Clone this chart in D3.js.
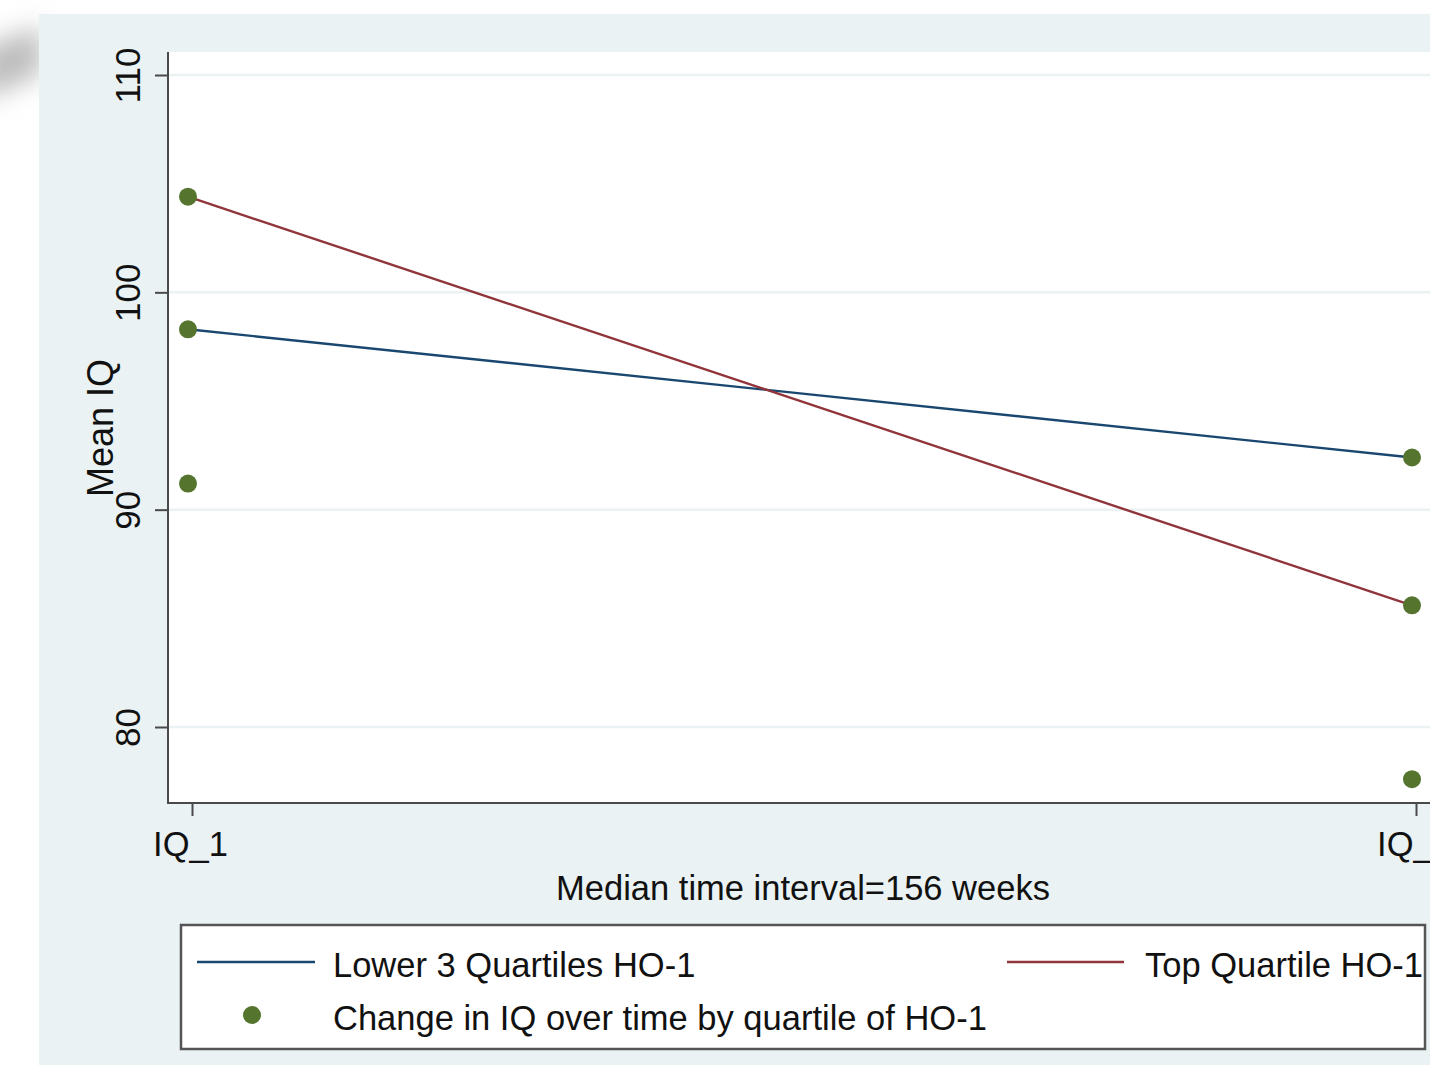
<!DOCTYPE html>
<html><head><meta charset="utf-8">
<script src="https://cdn.jsdelivr.net/npm/d3@7"></script>
<style>
html,body{margin:0;padding:0;background:#fff;overflow:hidden}
svg{display:block;font-family:"Liberation Sans",Arial,Helvetica,sans-serif}
</style></head>
<body>
<svg id="c" width="1430" height="1065"></svg>
<script>
// ---- data ----
const timepoints = ["IQ_1", "IQ_2"];
const lowerQuartiles = [98.3, 92.4];   // Lower 3 Quartiles HO-1
const topQuartile = [104.4, 85.6];     // Top Quartile HO-1
const dotTime = ["IQ_1", "IQ_1", "IQ_1", "IQ_2", "IQ_2", "IQ_2"];
const dotValue = [104.4, 98.3, 91.2, 92.4, 85.6, 77.6];
const yTicks = [80, 90, 100, 110];
const yTitle = "Mean IQ";
const xTitle = "Median time interval=156 weeks";
const legendLabels = ["Lower 3 Quartiles HO-1", "Top Quartile HO-1", "Change in IQ over time by quartile of HO-1"];

const C = {bg:"#eaf2f3", navy:"#1a476f", maroon:"#90353b", green:"#55752f", axis:"#4a4a4a", text:"#111"};
const FS = 34.5;
const svg = d3.select("#c");

// page-curl shadow
const defs = svg.append("defs");
defs.append("filter").attr("id","blur").attr("x","-80%").attr("y","-80%").attr("width","260%").attr("height","260%")
  .append("feGaussianBlur").attr("stdDeviation", 13);
svg.append("path").attr("d","M-20,48 L42,26 L42,74 L-20,100 Z").attr("fill","#bdbdbd").attr("filter","url(#blur)");

// graph region
svg.append("rect").attr("x",39).attr("y",14).attr("width",1430-39).attr("height",1065-14).attr("fill",C.bg);

const plot = {left:168, top:52, right:1430, bottom:803};
svg.append("rect").attr("x",plot.left).attr("y",plot.top).attr("width",plot.right-plot.left).attr("height",plot.bottom-plot.top).attr("fill","#fff");

const y = d3.scaleLinear().domain([80,110]).range([727,75]);
const x = d3.scalePoint().domain(timepoints).range([192,1416]);
const markShift = -4;

// grid
svg.append("g").selectAll("line").data(yTicks).join("line")
  .attr("x1",plot.left).attr("x2",plot.right).attr("y1",d=>y(d)).attr("y2",d=>y(d))
  .attr("stroke",C.bg).attr("stroke-width",2.5);

// y axis
const ya = svg.append("g").attr("transform",`translate(${plot.left},0)`)
  .call(d3.axisLeft(y).tickValues(yTicks).tickSize(13).tickPadding(0).tickSizeOuter(0));
ya.select(".domain").remove();
ya.selectAll(".tick line").attr("stroke",C.axis).attr("stroke-width",2);
ya.selectAll(".tick text").attr("transform","rotate(-90)").attr("x",0).attr("y",-28).attr("dy",0)
  .attr("text-anchor","middle").attr("font-size",35).attr("fill",C.text);
svg.append("line").attr("x1",plot.left).attr("x2",plot.left).attr("y1",plot.top).attr("y2",plot.bottom+1)
  .attr("stroke",C.axis).attr("stroke-width",2);

// x axis
const xa = svg.append("g").attr("transform",`translate(0,${plot.bottom})`)
  .call(d3.axisBottom(x).tickSize(13).tickPadding(0).tickSizeOuter(0));
xa.select(".domain").remove();
xa.selectAll(".tick line").attr("stroke",C.axis).attr("stroke-width",2);
xa.selectAll(".tick text").attr("x",-2).attr("y",53).attr("dy",0).attr("font-size",FS).attr("fill",C.text);
svg.append("line").attr("x1",plot.left-1).attr("x2",plot.right).attr("y1",plot.bottom).attr("y2",plot.bottom)
  .attr("stroke",C.axis).attr("stroke-width",2);

// titles
svg.append("text").attr("transform",`translate(113,428) rotate(-90)`).attr("text-anchor","middle")
  .attr("font-size",36).attr("fill",C.text).text(yTitle);
svg.append("text").attr("x",803).attr("y",900).attr("text-anchor","middle")
  .attr("font-size",FS).attr("fill",C.text).text(xTitle);

// lines
const line = d3.line().x((d,i)=>x(timepoints[i])+markShift).y(d=>y(d));
svg.append("path").datum(lowerQuartiles).attr("d",line).attr("fill","none").attr("stroke",C.navy).attr("stroke-width",2.4);
svg.append("path").datum(topQuartile).attr("d",line).attr("fill","none").attr("stroke",C.maroon).attr("stroke-width",2.4);

// dots
svg.append("g").selectAll("circle").data(dotValue).join("circle")
  .attr("cx",(d,i)=>x(dotTime[i])+markShift).attr("cy",d=>y(d)).attr("r",9).attr("fill",C.green);

// legend
const lg = svg.append("g");
lg.append("rect").attr("x",181).attr("y",925).attr("width",1244).attr("height",124)
  .attr("fill","#fff").attr("stroke","#555").attr("stroke-width",2.5);
lg.append("line").attr("x1",197).attr("x2",315).attr("y1",962).attr("y2",962).attr("stroke",C.navy).attr("stroke-width",2.4);
lg.append("text").attr("x",333).attr("y",977).attr("font-size",FS).attr("fill",C.text).text(legendLabels[0]);
lg.append("line").attr("x1",1007).attr("x2",1124).attr("y1",962).attr("y2",962).attr("stroke",C.maroon).attr("stroke-width",2.4);
lg.append("text").attr("x",1145).attr("y",977).attr("font-size",FS).attr("fill",C.text).text(legendLabels[1]);
lg.append("circle").attr("cx",252).attr("cy",1015).attr("r",9).attr("fill",C.green);
lg.append("text").attr("x",333).attr("y",1030).attr("font-size",FS).attr("fill",C.text).text(legendLabels[2]);
</script>
</body></html>
